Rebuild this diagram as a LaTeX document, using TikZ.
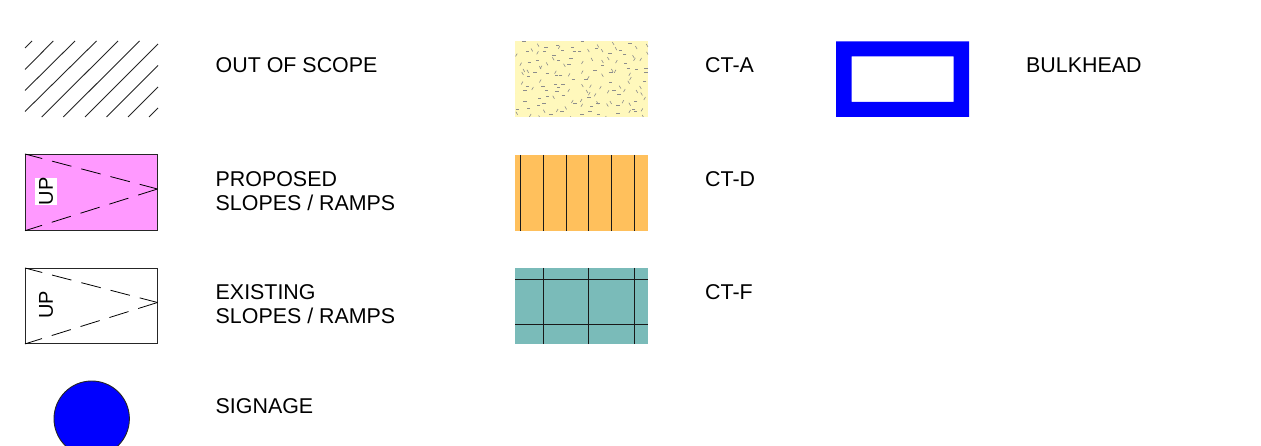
\documentclass[tikz,border=0pt]{standalone}
\usepackage{fontspec}
\setmainfont{Liberation Sans}
\tikzset{
  x=1pt,y=-1pt,
  lbl/.style={anchor=base west,inner sep=0pt,font=\fontsize{21.4}{24}\selectfont,align=left},
  hatchline/.style={line width=0.9pt,black!85},
  ramprect/.style={draw=black!85,line width=0.9pt},
  rampdash/.style={line width=0.8pt,black,dash pattern=on 20pt off 10.2pt,dash phase=2.2pt},
  uplabel/.style={rotate=90,inner sep=0pt,font=\fontsize{20}{20}\selectfont},
  gridline/.style={line width=0.9pt,black!90},
}
\definecolor{ctayellow}{HTML}{FFF8BC}
\definecolor{ctdorange}{HTML}{FFC05C}
\definecolor{ctfteal}{HTML}{7ABBB9}
\definecolor{ramppink}{HTML}{FF99FF}
\begin{document}
\begin{tikzpicture}
\useasboundingbox (0,0) rectangle (1261,446);
% OUT OF SCOPE
\foreach \a/\b/\c/\d in {25/48/32/41,25/69.5/53.3/41,25/90.5/75/41,25/111.5/96.5/41,41.7/117/118/41,63.3/117/139.5/41,85/117/158/44,106.5/117/158/65.5,128/117/158/87,149/117/158/108}
  \draw[hatchline] (\a,\b) -- (\c,\d);
\node[lbl] (oos) at (215.5,73) {OUT OF SCOPE};
% PROPOSED
\node[ramprect,fill=ramppink,minimum width=132.2pt,minimum height=75.8pt,inner sep=0pt,anchor=north west] (pr) at (25,154) {};
\coordinate (prapex) at (157.5,189);
\draw[rampdash] (pr.north west) -- (prapex);
\draw[rampdash] (pr.south west) -- (prapex);
\fill[white] (35,178) rectangle (57,205);
\node[uplabel] (prup) at (46,191.5) {UP};
\node[lbl] (prt) at (215.5,210.3) {PROPOSED\\SLOPES / RAMPS};
% EXISTING
\node[ramprect,fill=white,minimum width=132.2pt,minimum height=75pt,inner sep=0pt,anchor=north west] (ex) at (25,268) {};
\coordinate (exapex) at (157.5,302.5);
\draw[rampdash] (ex.north west) -- (exapex);
\draw[rampdash] (ex.south west) -- (exapex);
\node[uplabel] (exup) at (46,305) {UP};
\node[lbl] (ext) at (215.5,323.8) {EXISTING\\SLOPES / RAMPS};
% SIGNAGE
\draw[line width=0.9pt,draw=black!85,fill=blue] (91.7,418.7) circle (37.7);
\node[lbl] (sig) at (215.5,413) {SIGNAGE};
% CT-A
\fill[ctayellow] (515,41) rectangle (648,117);
\begin{scope}
\clip (515,41) rectangle (648,117);
\pgfmathsetseed{4711}
\foreach \i in {0,...,14}{
  \foreach \j in {0,...,9}{
    \pgfmathsetmacro{\px}{515+(\i+rnd)*8.9}
    \pgfmathsetmacro{\py}{41+(\j+rnd)*7.6}
    \pgfmathsetmacro{\ang}{int(random(0,3))*60}
    \draw[line width=0.6pt,black!45] (\px,\py) -- ++(\ang:3.4);
  }
}
\end{scope}
\node[lbl] (cta) at (705,73) {CT-A};
% CT-D
\fill[ctdorange] (515,155) rectangle (648,231);
\foreach \x in {520.5,543.2,566,588.7,611.5,634.3}
  \draw[gridline] (\x,155) -- (\x,231);
\node[lbl] (ctd) at (705,187) {CT-D};
% CT-F
\fill[ctfteal] (515,268) rectangle (648,344);
\foreach \x in {543.3,588.7,634.3}
  \draw[gridline] (\x,268) -- (\x,344);
\foreach \y in {279,324.3}
  \draw[gridline] (515,\y) -- (648,\y);
\node[lbl] (ctf) at (705,300) {CT-F};
% BULKHEAD
\fill[blue,even odd rule] (836,41.5) rectangle (969,117) (851.5,56.5) rectangle (953.5,102);
\node[lbl] (bh) at (1026,73) {BULKHEAD};
\end{tikzpicture}
\end{document}
